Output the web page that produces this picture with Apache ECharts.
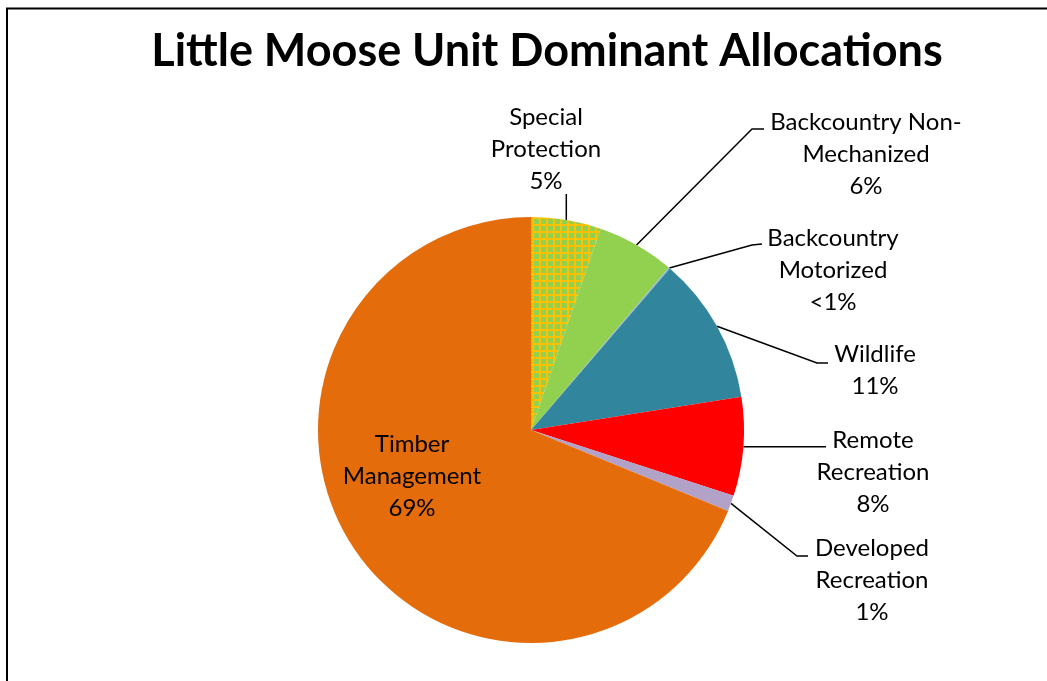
<!DOCTYPE html>
<html>
<head>
<meta charset="utf-8">
<script src="https://cdn.jsdelivr.net/npm/echarts@6/dist/echarts.min.js"></script>
<style>
  html, body { margin: 0; padding: 0; background: #fff; }
  #main { width: 1047px; height: 681px; }
</style>
</head>
<body>
<div id="main"></div>
<script>
// 数据
var names = [
    'Special\nProtection',
    'Backcountry Non-\nMechanized',
    'Backcountry\nMotorized',
    'Wildlife',
    'Remote\nRecreation',
    'Developed\nRecreation',
    'Timber\nManagement'
];
var values = [5.3, 5.9, 0.1, 11.2, 7.5, 1.2, 68.8];

// hatch for Special Protection
var hatch = document.createElement('canvas');
hatch.width = 7;
hatch.height = 7;
var hctx = hatch.getContext('2d');
hctx.fillStyle = '#92D050';
hctx.fillRect(0, 0, 7, 7);
hctx.fillStyle = '#FFC000';
hctx.fillRect(0, 0, 2, 7);
hctx.fillRect(0, 0, 7, 2);

var colors = [
    { image: hatch, repeat: 'repeat' },
    '#92D050', '#95B3D7', '#31859C', '#FF0000', '#B3A2C7', '#E46C0A'
];

// label centre + elbow/end of the leader line
var labelPlace = [
    { x: 546, y: 149, elbow: null, end: [0, 194] },
    { x: 866, y: 154, elbow: [752, 129], end: [764, 129] },
    { x: 833, y: 270, elbow: [752, 245], end: [762, 244] },
    { x: 875, y: 370, elbow: [817, 363], end: [828, 363] },
    { x: 873, y: 472, elbow: null, end: [826, 0] },
    { x: 872, y: 580, elbow: [797, 556], end: [808, 556] },
    { x: 412, y: 476 }
];

var myChart = echarts.init(document.getElementById('main'));

var data = names.map(function (n, i) {
    var item = { name: n, value: values[i], itemStyle: { color: colors[i] } };
    if (i === 6) item.labelLine = { show: false };
    return item;
});

var option = {
    animation: false,
    title: {
        text: 'Little Moose Unit Dominant Allocations',
        left: 542,
        top: 24,
        textAlign: 'center',
        textStyle: {
            fontFamily: 'Lato',
            fontWeight: 'bold',
            fontSize: 45,
            color: '#000'
        }
    },
    graphic: [{
        type: 'rect',
        shape: { x: 7, y: 8.5, width: 1100, height: 700 },
        style: { fill: 'none', stroke: '#000', lineWidth: 2 },
        silent: true
    }],
    series: [{
        type: 'pie',
        center: [531, 430],
        radius: 213,
        startAngle: 90,
        clockwise: true,
        silent: true,
        data: data,
        label: {
            show: true,
            color: '#000',
            fontFamily: 'Lato',
            fontSize: 24,
            lineHeight: 32,
            align: 'center',
            formatter: function (p) {
                var pct = p.percent < 1 ? '<1%' : Math.round(p.percent) + '%';
                return p.name + '\n' + pct;
            }
        },
        labelLine: {
            show: true,
            lineStyle: { color: '#000', width: 1.5 }
        },
        labelLayout: function (params) {
            var pl = labelPlace[params.dataIndex];
            var res = { x: pl.x, y: pl.y, align: 'center', verticalAlign: 'middle' };
            var pts = params.labelLinePoints;
            if (pts && pl.end) {
                var a = pts[0];
                var end, elbow;
                if (params.dataIndex === 0) {
                    end = [a[0], pl.end[1]];
                    elbow = end;
                } else if (params.dataIndex === 4) {
                    end = [pl.end[0], a[1]];
                    elbow = end;
                } else {
                    end = pl.end;
                    elbow = pl.elbow;
                }
                res.labelLinePoints = [a, elbow, end];
            }
            return res;
        }
    }]
};

myChart.setOption(option);
</script>
</body>
</html>
